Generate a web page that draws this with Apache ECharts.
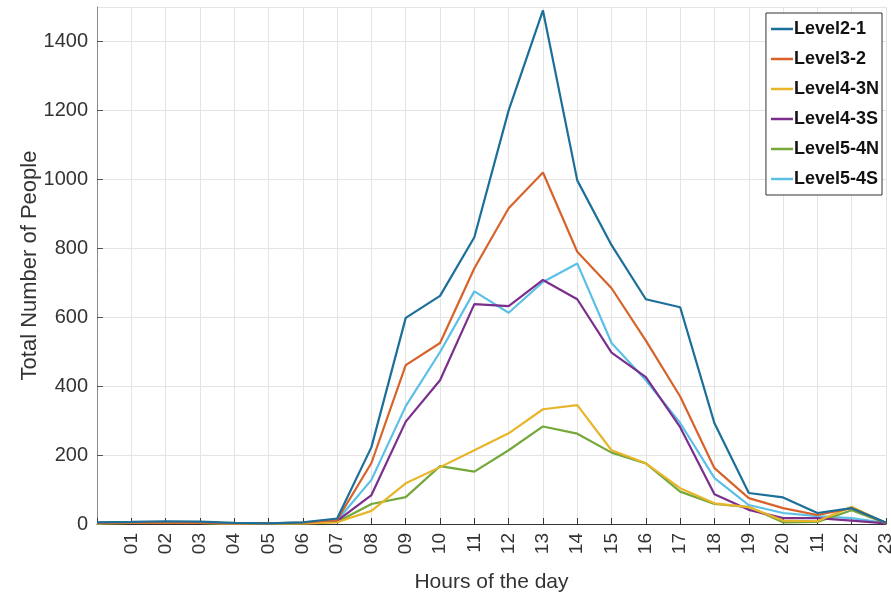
<!DOCTYPE html>
<html><head><meta charset="utf-8">
<script src="https://cdn.jsdelivr.net/npm/echarts@6/dist/echarts.min.js"></script>
<style>html,body{margin:0;padding:0;background:#fff}#c{width:891px;height:598px}</style>
</head><body><div id="c"></div>
<script>
const hourLabels = ["", "01","02","03","04","05","06","07","08","09","10","11","12","13","14","15","16","17","18","19","20","11","22","23"];
const seriesNames = ["Level2-1","Level3-2","Level4-3N","Level4-3S","Level5-4N","Level5-4S"];
const level2_1  = [5,6,8,7,3,2,5,16,223,598,662,832,1200,1490,997,809,652,629,292,90,77,32,46,4];
const level3_2  = [3,4,5,4,2,2,4,12,177,461,525,742,916,1020,790,684,532,370,162,75,46,26,46,3];
const level4_3N = [2,3,4,3,1,1,2,5,38,118,165,214,263,333,345,214,176,104,60,49,10,8,50,2];
const level4_3S = [3,4,5,4,2,2,3,9,84,297,417,638,632,708,652,497,426,281,86,41,17,17,10,2];
const level5_4N = [2,3,4,3,1,1,2,6,58,78,168,152,214,283,262,207,176,94,58,49,5,6,40,2];
const level5_4S = [3,4,5,4,2,2,4,10,128,342,499,675,613,702,756,525,417,293,133,55,32,23,17,3];
const yTicks = [0,200,400,600,800,1000,1200,1400];
const colors = ["#1b6f99","#d7632b","#e8b52a","#7b2f8d","#74a83a","#5cc0e6"];
const allData = [level2_1, level3_2, level4_3N, level4_3S, level5_4N, level5_4S];

const chart = echarts.init(document.getElementById('c'), null, {renderer:'canvas'});
chart.setOption({
  animation:false,
  grid:{left:97, right:5, top:7, bottom:74, containLabel:false, outerBoundsMode:'none'},
  legend:{
    orient:'vertical', right:9, top:13,
    data:seriesNames, icon:'rect', itemWidth:22, itemHeight:2.5, itemGap:12,
    backgroundColor:'#fff', borderColor:'#333', borderWidth:1, padding:[7,3,7,5],
    textStyle:{fontFamily:'Liberation Sans, Arial, sans-serif', fontWeight:'bold', fontSize:18, color:'#111', padding:[0,0,0,-4]}
  },
  xAxis:{
    type:'category', data:hourLabels, boundaryGap:false,
    name:'Hours of the day', nameLocation:'middle', nameGap:48,
    nameTextStyle:{fontFamily:'Liberation Sans, Arial, sans-serif', fontSize:21, color:'#333'},
    axisLine:{lineStyle:{color:'#333', width:1.2}},
    axisTick:{inside:true, length:6, alignWithLabel:true, interval:0, lineStyle:{color:'#333'}},
    axisLabel:{interval:0, rotate:90, fontFamily:'Liberation Sans, Arial, sans-serif', fontSize:19, color:'#333', margin:9},
    splitLine:{show:true, interval:0, lineStyle:{color:'#e4e4e4', width:1}}
  },
  yAxis:{
    type:'value', min:0, max:1500, interval:200,
    name:'Total Number of People', nameLocation:'middle', nameGap:56, nameMoveOverlap:false,
    nameTextStyle:{fontFamily:'Liberation Sans, Arial, sans-serif', fontSize:22, color:'#333'},
    axisLine:{show:true, lineStyle:{color:'#888', width:1}},
    axisTick:{show:true, inside:true, length:6, lineStyle:{color:'#555'}},
    axisLabel:{fontFamily:'Liberation Sans, Arial, sans-serif', fontSize:20, color:'#333', margin:9, showMaxLabel:false,
      formatter:function(v){return yTicks.indexOf(v)>=0 ? String(v) : '';}},
    splitLine:{show:true, lineStyle:{color:'#e4e4e4', width:1}}
  },
  series: seriesNames.map((n,i)=>({
    name:n, type:'line', data:allData[i], symbol:'none', color:colors[i],
    lineStyle:{width:2.2, color:colors[i]}, z:10-i
  }))
});
</script></body></html>
